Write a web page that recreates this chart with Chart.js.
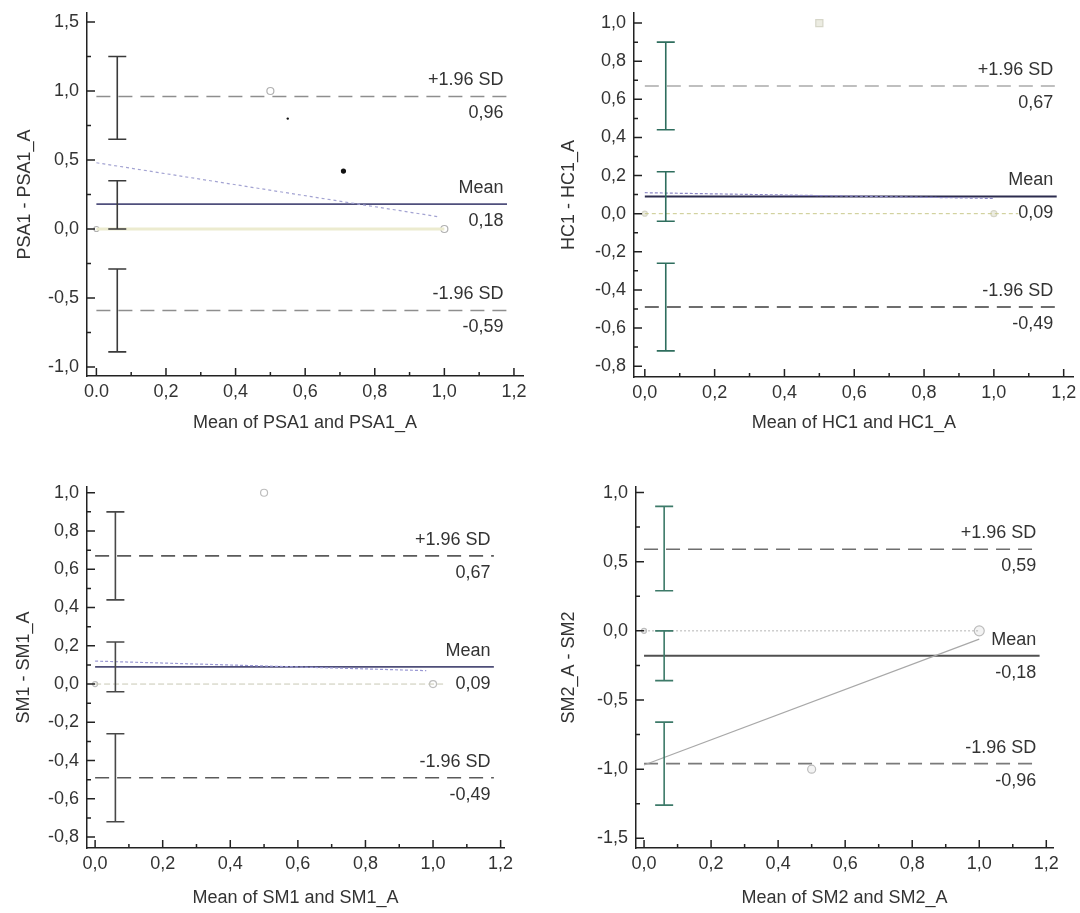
<!DOCTYPE html>
<html>
<head>
<meta charset="utf-8">
<script src="https://cdn.jsdelivr.net/npm/chart.js@4.4.0/dist/chart.umd.min.js"></script>
<style>
  body { margin: 0; background: #fff; }
  #wrap { position: relative; width: 1080px; height: 913px; background: #fff; }
  canvas { position: absolute; }
</style>
</head>
<body>
<div id="wrap">
  <canvas id="c0"></canvas>
  <canvas id="c1"></canvas>
  <canvas id="c2"></canvas>
  <canvas id="c3"></canvas>
</div>
<script>
// ---- data ----
const xTitles = ["Mean of PSA1 and PSA1_A", "Mean of HC1 and HC1_A", "Mean of SM1 and SM1_A", "Mean of SM2 and SM2_A"];
const yTitles = ["PSA1 - PSA1_A", "HC1 - HC1_A", "SM1 - SM1_A", "SM2_A - SM2"];

const meanDiff = [0.18, 0.09, 0.09, -0.18];
const upperLimit = [0.96, 0.67, 0.67, 0.59];
const lowerLimit = [-0.59, -0.49, -0.49, -0.96];
const meanLabels = ["0,18", "0,09", "0,09", "-0,18"];
const upperLabels = ["0,96", "0,67", "0,67", "0,59"];
const lowerLabels = ["-0,59", "-0,49", "-0,49", "-0,96"];

// confidence intervals drawn as error bars [low, high]
const upperCI = [[0.65, 1.25], [0.44, 0.90], [0.44, 0.90], [0.29, 0.90]];
const meanCI = [[0.00, 0.35], [-0.04, 0.22], [-0.04, 0.22], [-0.36, 0.00]];
const lowerCI = [[-0.89, -0.29], [-0.72, -0.26], [-0.72, -0.26], [-1.26, -0.66]];
const ciX = 0.06;

// observations
const pointX = [[0.5, 0.0, 1.0], [0.5, 0.0, 1.0], [0.5, 0.0, 1.0], [0.0, 1.0, 0.5]];
const pointY = [[1.0, 0.0, 0.0], [1.0, 0.0, 0.0], [1.0, 0.0, 0.0], [0.0, 0.0, -1.0]];
const dotX = [0.55, 0.71];   // black dots, first plot
const dotY = [0.80, 0.42];

// regression of differences on means
const regStart = [[0.0, 0.48], [0.0, 0.11], [0.0, 0.12], [0.0, -0.97]];
const regEnd = [[0.98, 0.09], [1.0, 0.08], [0.98, 0.07], [1.0, -0.06]];
const zeroEnd = [1.0, 1.07, 1.03, 1.0];

const xTicks = [0.0, 0.2, 0.4, 0.6, 0.8, 1.0, 1.2];
const xTickLabels = [
  ["0.0", "0,2", "0,4", "0,6", "0,8", "1,0", "1,2"],
  ["0,0", "0,2", "0,4", "0,6", "0,8", "1,0", "1,2"],
  ["0,0", "0,2", "0,4", "0,6", "0,8", "1,0", "1,2"],
  ["0,0", "0,2", "0,4", "0,6", "0,8", "1,0", "1,2"]
];
const yTicks = [
  [-1.0, -0.5, 0.0, 0.5, 1.0, 1.5],
  [-0.8, -0.6, -0.4, -0.2, 0.0, 0.2, 0.4, 0.6, 0.8, 1.0],
  [-0.8, -0.6, -0.4, -0.2, 0.0, 0.2, 0.4, 0.6, 0.8, 1.0],
  [-1.5, -1.0, -0.5, 0.0, 0.5, 1.0]
];
const yTickLabels = [
  ["-1,0", "-0,5", "0,0", "0,5", "1,0", "1,5"],
  ["-0,8", "-0,6", "-0,4", "-0,2", "0,0", "0,2", "0,4", "0,6", "0,8", "1,0"],
  ["-0,8", "-0,6", "-0,4", "-0,2", "0,0", "0,2", "0,4", "0,6", "0,8", "1,0"],
  ["-1,5", "-1,0", "-0,5", "0,0", "0,5", "1,0"]
];

// ---- layout and styles ----
const panels = [
  { left: 0, top: 0, w: 540, h: 456, L: 87, R: 523, T: 13, B: 376, xMin: -0.027, xMax: 1.226, yMin: -1.065, yMax: 1.565, yW: 73, xH: 58 },
  { left: 540, top: 0, w: 540, h: 456, L: 94, R: 535, T: 13, B: 377, xMin: -0.031, xMax: 1.229, yMin: -0.857, yMax: 1.053, yW: 76, xH: 57 },
  { left: 0, top: 456, w: 540, h: 457, L: 87, R: 504, T: 31, B: 392, xMin: -0.024, xMax: 1.21, yMin: -0.857, yMax: 1.03, yW: 74, xH: 61 },
  { left: 540, top: 456, w: 540, h: 457, L: 96, R: 513, T: 31, B: 392, xMin: -0.024, xMax: 1.22, yMin: -1.57, yMax: 1.04, yW: 78, xH: 61 }
];
const styles = [
  { mean: "#4f4f7c", upper: "#8e8e8e", lower: "#8e8e8e", ci: "#3a3a3a", zero: "#ecebcf", zeroW: 3, zeroDash: [], reg: "#a3a3d2", regDash: [3, 3], pt: "#b0b0b0", ptR: [3.5, 2.5, 3.5], ptFill: "rgba(255,255,255,0.6)" },
  { mean: "#2c2c4e", upper: "#ababab", lower: "#3e3e3e", ci: "#2f6e5e", zero: "#c9c98c", zeroW: 1, zeroDash: [4, 3], reg: "#8b86c6", regDash: [3, 2], pt: "#d6d6c8", ptR: [5, 2.5, 3], ptFill: "#ececE2" },
  { mean: "#4e4e78", upper: "#5a5a5a", lower: "#5a5a5a", ci: "#484848", zero: "#c8c8b4", zeroW: 1, zeroDash: [6, 3], reg: "#9a98d4", regDash: [3, 2], pt: "#bdbdbd", ptR: [3.5, 2.5, 3.5], ptFill: "rgba(255,255,255,0.6)" },
  { mean: "#505050", upper: "#6e6e6e", lower: "#7a7a7a", ci: "#3d7a69", zero: "#b4b4b4", zeroW: 1, zeroDash: [2, 2], reg: "#a8a8a8", regDash: [], pt: "#bcbcbc", ptR: [2.5, 5, 4], ptFill: "rgba(240,240,240,0.8)" }
];
const fontFamily = "'Liberation Sans', Arial, sans-serif";
const textColor = "#333";
const labelX = 1.17;
const lineStart = 0.0;
const lineEnd = 1.18;

const baPlugin = {
  id: "ba",
  afterDatasetsDraw(chart, args, opts) {
    const i = opts.idx;
    const st = styles[i];
    const { ctx, scales: { x, y } } = chart;
    // error bars for the CIs
    const px = x.getPixelForValue(ciX);
    ctx.save();
    ctx.strokeStyle = st.ci;
    ctx.lineWidth = 1.6;
    [upperCI[i], meanCI[i], lowerCI[i]].forEach(([lo, hi]) => {
      const y0 = y.getPixelForValue(lo), y1 = y.getPixelForValue(hi);
      ctx.beginPath();
      ctx.moveTo(px, y0); ctx.lineTo(px, y1);
      ctx.moveTo(px - 9, y0); ctx.lineTo(px + 9, y0);
      ctx.moveTo(px - 9, y1); ctx.lineTo(px + 9, y1);
      ctx.stroke();
    });
    // labels of the lines
    ctx.fillStyle = textColor;
    ctx.font = "18px " + fontFamily;
    ctx.textAlign = "right";
    ctx.textBaseline = "middle";
    const lx = x.getPixelForValue(labelX);
    [["+1.96 SD", upperLabels[i], upperLimit[i]], ["Mean", meanLabels[i], meanDiff[i]], ["-1.96 SD", lowerLabels[i], lowerLimit[i]]]
      .forEach(([name, val, v]) => {
        const py = y.getPixelForValue(v);
        ctx.fillText(name, lx, py - 16);
        ctx.fillText(val, lx, py + 17);
      });
    ctx.restore();
  },
  afterDraw(chart, args, opts) {
    const i = opts.idx;
    const { ctx, scales: { x, y }, chartArea: a } = chart;
    ctx.save();
    ctx.strokeStyle = "#222";
    ctx.lineWidth = 1.5;
    ctx.beginPath();
    xTicks.forEach((v, k) => {
      const p = x.getPixelForValue(v);
      ctx.moveTo(p, a.bottom); ctx.lineTo(p, a.bottom - 8);
      if (k < xTicks.length - 1) {
        const m = x.getPixelForValue((v + xTicks[k + 1]) / 2);
        ctx.moveTo(m, a.bottom); ctx.lineTo(m, a.bottom - 4);
      }
    });
    const yt = yTicks[i];
    yt.forEach((v, k) => {
      const p = y.getPixelForValue(v);
      ctx.moveTo(a.left, p); ctx.lineTo(a.left + 8, p);
      if (k < yt.length - 1) {
        const m = y.getPixelForValue((v + yt[k + 1]) / 2);
        ctx.moveTo(a.left, m); ctx.lineTo(a.left + 4, m);
      }
    });
    ctx.stroke();
    ctx.restore();
  }
};

function hLine(v, color, dash, width) {
  return {
    data: [{ x: lineStart, y: v }, { x: lineEnd, y: v }],
    showLine: true, borderColor: color, borderWidth: width, borderDash: dash,
    pointRadius: 0, fill: false
  };
}

function makeChart(i) {
  const P = panels[i];
  const st = styles[i];
  const canvas = document.getElementById("c" + i);
  canvas.width = P.w; canvas.height = P.h;
  canvas.style.left = P.left + "px"; canvas.style.top = P.top + "px";
  canvas.style.width = P.w + "px"; canvas.style.height = P.h + "px";

  const pts = pointX[i].map((v, k) => ({ x: v, y: pointY[i][k] }));
  const datasets = [
    { data: [{ x: 0, y: 0 }, { x: zeroEnd[i], y: 0 }], showLine: true, borderColor: st.zero,
      borderWidth: st.zeroW, borderDash: st.zeroDash, pointRadius: 0 },
    { data: [{ x: regStart[i][0], y: regStart[i][1] }, { x: regEnd[i][0], y: regEnd[i][1] }], showLine: true,
      borderColor: st.reg, borderWidth: 1.2, borderDash: st.regDash, pointRadius: 0 },
    { data: pts, showLine: false, pointStyle: i === 1 ? ["rect", "circle", "circle"] : "circle",
      pointRadius: st.ptR, backgroundColor: st.ptFill, borderColor: st.pt, borderWidth: 1.2 },
    hLine(upperLimit[i], st.upper, [14, 8], 1.6),
    hLine(meanDiff[i], st.mean, [], 1.9),
    hLine(lowerLimit[i], st.lower, [14, 8], 1.6)
  ];
  if (i === 0) {
    datasets.push({ data: dotX.map((v, k) => ({ x: v, y: dotY[k] })), showLine: false,
      pointRadius: [1.2, 2.6], backgroundColor: "#111", borderColor: "#111", borderWidth: 0 });
  }

  const font = { family: fontFamily, size: 18 };
  return new Chart(canvas, {
    type: "scatter",
    data: { datasets: datasets },
    plugins: [baPlugin],
    options: {
      responsive: false,
      animation: false,
      events: [],
      layout: { padding: { left: P.L - P.yW, right: P.w - P.R, top: P.T, bottom: P.h - P.B - P.xH } },
      plugins: { legend: { display: false }, tooltip: { enabled: false }, ba: { idx: i } },
      scales: {
        x: {
          type: "linear", min: P.xMin, max: P.xMax,
          afterBuildTicks: s => { s.ticks = xTicks.map(v => ({ value: v })); },
          afterFit: s => { s.height = P.xH; s.paddingLeft = 0; s.paddingRight = 0; },
          ticks: { autoSkip: false, maxRotation: 0, padding: 5, color: textColor, font: font,
            callback: (v, k) => xTickLabels[i][k] },
          grid: { display: false, drawTicks: false },
          border: { display: true, color: "#222", width: 1.5 },
          title: { display: true, text: xTitles[i], color: textColor, font: font, padding: 0 }
        },
        y: {
          type: "linear", min: P.yMin, max: P.yMax,
          afterBuildTicks: s => { s.ticks = yTicks[i].map(v => ({ value: v })); },
          afterFit: s => { s.width = P.yW; s.paddingTop = 0; s.paddingBottom = 0; },
          ticks: { autoSkip: false, padding: 8, color: textColor, font: font,
            callback: (v, k) => yTickLabels[i][k] },
          grid: { display: false, drawTicks: false },
          border: { display: true, color: "#222", width: 1.5 },
          title: { display: true, text: yTitles[i], color: textColor, font: font, padding: 0 }
        }
      }
    }
  });
}

[0, 1, 2, 3].forEach(makeChart);
</script>
</body>
</html>
